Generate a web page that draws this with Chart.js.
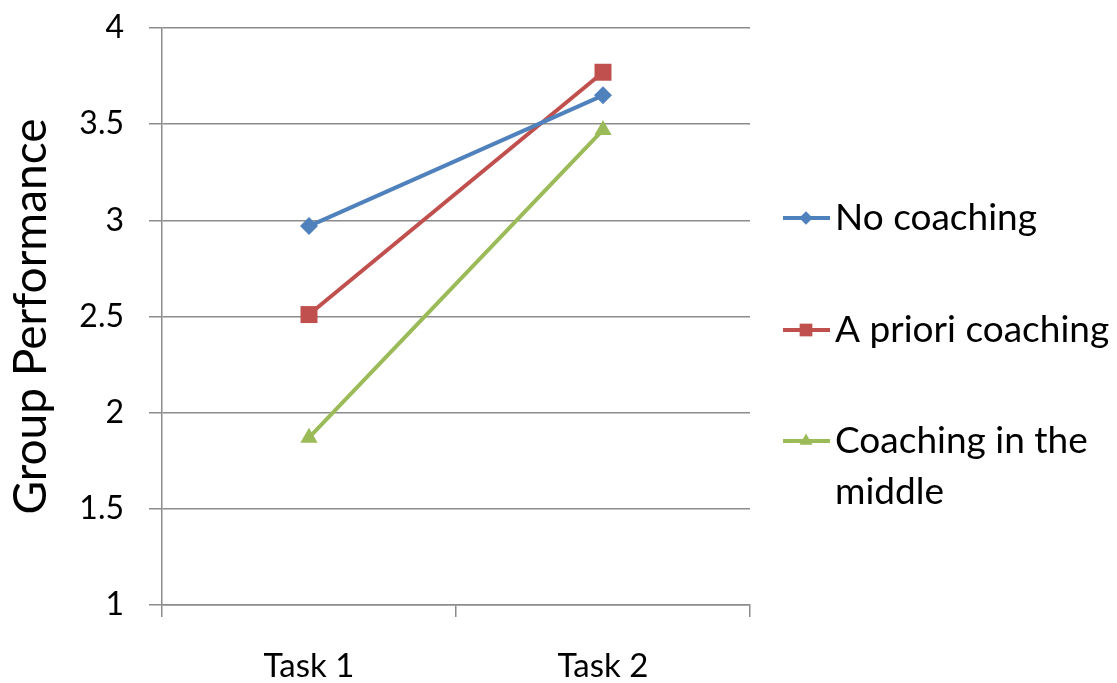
<!DOCTYPE html>
<html>
<head>
<meta charset="utf-8">
<script src="https://cdn.jsdelivr.net/npm/chart.js@4"></script>
<style>
  body { margin: 0; background: #fff; }
  #wrap { width: 1117px; height: 683px; position: relative; }
</style>
</head>
<body>
<div id="wrap"><canvas id="chart"></canvas></div>
<script>
var categories = ['Task 1', 'Task 2'];
var noCoaching = [2.97, 3.65];
var aPrioriCoaching = [2.51, 3.77];
var coachingMiddle = [1.87, 3.47];
var seriesNames = ['No coaching', 'A priori coaching', 'Coaching in the middle'];
var yTicks = [1, 1.5, 2, 2.5, 3, 3.5, 4];

var FONT = 'Lato, "Open Sans", sans-serif';

// legend drawn on the right, with the line + marker swatch like the original
var sideLegend = {
    id: 'sideLegend',
    afterDraw: function(chart) {
        var ctx = chart.ctx;
        var rows = [218, 330, 441];
        ctx.save();
        ctx.font = '37px ' + FONT;
        ctx.textBaseline = 'middle';
        ctx.textAlign = 'left';
        chart.data.datasets.forEach(function(ds, i) {
            var y = rows[i];
            ctx.strokeStyle = ds.borderColor;
            ctx.lineWidth = 4;
            ctx.beginPath();
            ctx.moveTo(783, y);
            ctx.lineTo(830, y);
            ctx.stroke();
            ctx.fillStyle = ds.borderColor;
            Chart.helpers.drawPoint(ctx, {
                pointStyle: ds.pointStyle,
                radius: ds.pointRadius * 0.75,
                rotation: 0,
                borderWidth: 0
            }, 806, y);

            // simple word wrap
            var words = ds.label.split(' ');
            var lines = [];
            var cur = '';
            words.forEach(function(w) {
                var test = cur ? cur + ' ' + w : w;
                if (ctx.measureText(test).width > 278 && cur) {
                    lines.push(cur);
                    cur = w;
                } else {
                    cur = test;
                }
            });
            lines.push(cur);
            ctx.fillStyle = '#000';
            lines.forEach(function(line, j) {
                ctx.fillText(line, 835, y + j * 51);
            });
        });
        ctx.restore();
    }
};

new Chart(document.getElementById('chart'), {
    type: 'line',
    data: {
        labels: categories,
        datasets: [
            {
                label: seriesNames[0],
                data: noCoaching,
                borderColor: '#4F81BD',
                backgroundColor: '#4F81BD',
                pointStyle: 'rectRot',
                pointRadius: 9
            },
            {
                label: seriesNames[1],
                data: aPrioriCoaching,
                borderColor: '#C0504D',
                backgroundColor: '#C0504D',
                pointStyle: 'rect',
                pointRadius: 12
            },
            {
                label: seriesNames[2],
                data: coachingMiddle,
                borderColor: '#9BBB59',
                backgroundColor: '#9BBB59',
                pointStyle: 'triangle',
                pointRadius: 10
            }
        ]
    },
    options: {
        responsive: true,
        maintainAspectRatio: false,
        animation: false,
        layout: {
            padding: { left: 0, right: 367, top: 28, bottom: 0 }
        },
        elements: {
            line: { borderWidth: 4, tension: 0 },
            point: { borderWidth: 0, hoverRadius: 10 }
        },
        plugins: {
            legend: { display: false },
            tooltip: { enabled: false }
        },
        scales: {
            x: {
                offset: true,
                afterFit: function(scale) {
                    scale.height = 78;
                    scale.paddingLeft = 0;
                    scale.paddingRight = 0;
                },
                grid: {
                    offset: true,
                    drawOnChartArea: false,
                    drawTicks: true,
                    tickLength: 12,
                    color: '#8c8c8c',
                    lineWidth: 1.5
                },
                border: { color: '#8c8c8c', width: 1.5 },
                ticks: {
                    color: '#000',
                    padding: 30,
                    font: { family: FONT, size: 33 }
                }
            },
            y: {
                min: 1,
                max: 4,
                afterFit: function(scale) {
                    scale.width = 162;
                    scale.paddingTop = 0;
                    scale.paddingBottom = 0;
                },
                afterBuildTicks: function(scale) {
                    scale.ticks = yTicks.map(function(v) { return { value: v }; });
                },
                grid: {
                    drawTicks: true,
                    tickLength: 13,
                    color: '#8c8c8c',
                    lineWidth: 1.5
                },
                border: { color: '#8c8c8c', width: 1.5 },
                ticks: {
                    color: '#000',
                    padding: 25,
                    font: { family: FONT, size: 32 },
                    callback: function(v) { return String(v); }
                },
                title: {
                    display: true,
                    text: 'Group Performance',
                    color: '#000',
                    padding: { top: 4, bottom: 0 },
                    font: { family: FONT, size: 46 }
                }
            }
        }
    },
    plugins: [sideLegend]
});
</script>
</body>
</html>
